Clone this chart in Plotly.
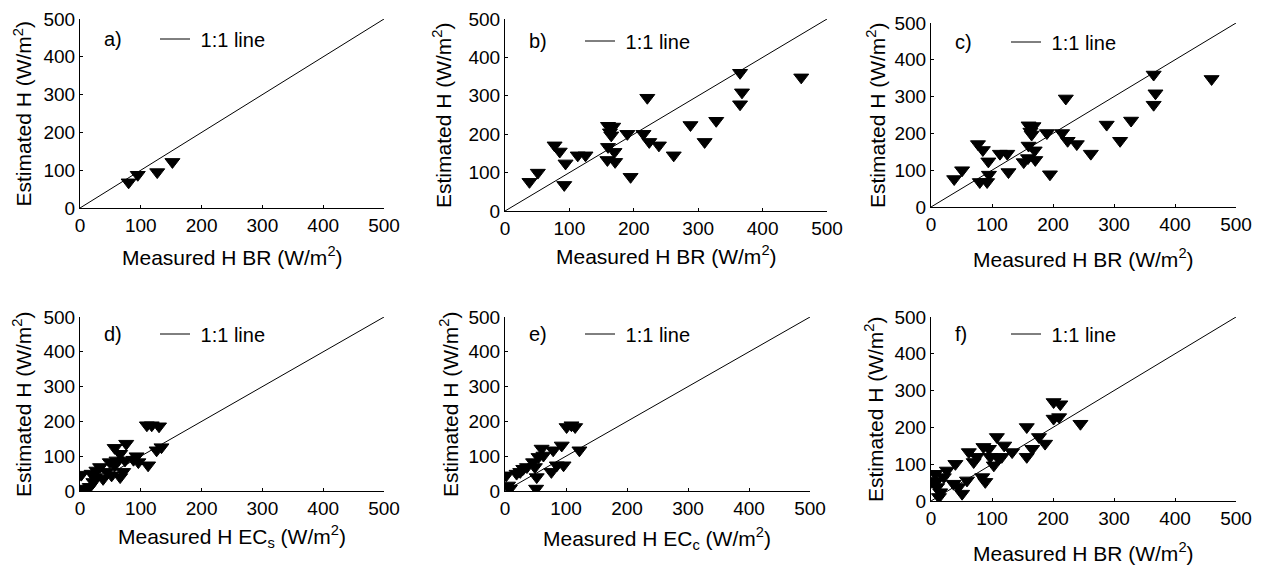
import plotly.graph_objects as go

W, H = 1261, 565
OFF = 8  # the page body adds an 8px margin around the figure

# measured vs estimated sensible heat flux (W/m2)
a_x = [80, 95, 127, 152]
a_y = [68, 88, 95, 122]

b_x = [38, 51, 92, 77, 85, 94, 113, 125, 159, 160, 168, 163, 165, 160, 170, 171,
       190, 195, 221, 215, 224, 239, 262, 288, 310, 328, 365, 368, 365, 460]
b_y = [76, 100, 68, 171, 155, 124, 145, 145, 133, 222, 220, 205, 197, 167, 154, 128,
       201, 89, 295, 201, 180, 171, 145, 224, 180, 235, 360, 309, 278, 348]

c_x = [80, 95, 127, 152,
       38, 51, 92, 77, 85, 94, 113, 125, 159, 160, 168, 163, 165, 160, 170, 171,
       190, 195, 221, 215, 224, 239, 262, 288, 310, 328, 365, 368, 365, 460]
c_y = [68, 88, 95, 122,
       76, 100, 68, 171, 155, 124, 145, 145, 133, 222, 220, 205, 197, 167, 154, 128,
       201, 89, 295, 201, 180, 171, 145, 224, 180, 235, 360, 309, 278, 348]

d_x = [2, 5, 8, 16, 22, 19, 27, 33, 25, 38, 44, 49, 52, 57, 60, 57, 66, 71, 74, 76,
       88, 93, 96, 112, 110, 118, 130, 126, 134, 66]
d_y = [47, 7, 4, 12, 26, 50, 59, 69, 40, 35, 55, 83, 45, 74, 88, 124, 107, 55, 88, 136,
       90, 100, 83, 74, 189, 189, 186, 117, 126, 40]

e_x = [2, 5, 8, 25, 19, 30, 36, 46, 49, 52, 51, 55, 60, 63, 76, 79, 85, 93, 96, 101,
       109, 115, 122]
e_y = [45, 16, 7, 55, 50, 64, 69, 83, 69, 40, 7, 98, 122, 102, 55, 117, 74, 131, 74, 184,
       189, 184, 117]

f_x = [0, 7, 10, 13, 15, 21, 26, 37, 40, 45, 51, 59, 62, 70, 75, 84, 89, 86, 95, 97,
       103, 108, 111, 116, 120, 133, 157, 157, 166, 177, 187, 201, 212, 201, 210, 245, 10]
f_y = [52, 74, 38, 11, 24, 65, 83, 47, 101, 38, 20, 56, 133, 106, 120, 65, 52, 147, 142, 120,
       97, 174, 115, 120, 151, 133, 201, 120, 142, 174, 156, 269, 263, 224, 228, 210, 56]

one_to_one = [0, 500]
ticks = [0, 100, 200, 300, 400, 500]

panels = [
    ("a)", a_x, a_y, "Measured H BR (W/m<sup>2</sup>)"),
    ("b)", b_x, b_y, "Measured H BR (W/m<sup>2</sup>)"),
    ("c)", c_x, c_y, "Measured H BR (W/m<sup>2</sup>)"),
    ("d)", d_x, d_y, "Measured H EC<sub>s</sub> (W/m<sup>2</sup>)"),
    ("e)", e_x, e_y, "Measured H EC<sub>c</sub> (W/m<sup>2</sup>)"),
    ("f)", f_x, f_y, "Measured H BR (W/m<sup>2</sup>)"),
]

# plot-area boxes in screen pixels: left, right, top, bottom
boxes = [
    (80, 384, 19, 208),
    (505, 827, 19, 211),
    (931, 1236, 23, 207),
    (80, 384, 317, 491),
    (505, 810, 317, 491),
    (931, 1236, 317, 501),
]
# screen pixel placements: label/legend row, x-title baseline, y-title centre x
label_y = [39, 41, 42, 334, 334, 334]
xtitle_base = [262, 261, 264, 542, 544, 558]
ytitle_x = [22, 442, 876, 22, 449, 874]


def px(p):
    return (p - OFF) / W


def py(p):
    return 1 - (p - OFF) / H


FONT = "Liberation Sans, Arial, sans-serif"

fig = go.Figure()
layout = dict(
    width=W, height=H,
    margin=dict(l=0, r=0, t=0, b=0, autoexpand=False),
    paper_bgcolor="white", plot_bgcolor="white",
    font=dict(family=FONT, size=19, color="black"),
    showlegend=True,
)
annotations = []

for i, (lab, xs, ys, xtitle) in enumerate(panels):
    n = i + 1
    xa = "x" if n == 1 else f"x{n}"
    ya = "y" if n == 1 else f"y{n}"
    lg = "legend" if n == 1 else f"legend{n}"
    l, r, t, b = boxes[i]

    fig.add_trace(go.Scatter(
        x=one_to_one, y=one_to_one, mode="lines", name=" 1:1 line",
        line=dict(color="black", width=1), xaxis=xa, yaxis=ya, legend=lg,
        hoverinfo="skip"))
    fig.add_trace(go.Scatter(
        x=xs, y=ys, mode="markers", showlegend=False,
        marker=dict(symbol="triangle-down", size=13, color="black",
                    line=dict(color="black", width=1)),
        xaxis=xa, yaxis=ya))

    axis_common = dict(range=[0, 500], tickvals=ticks, ticks="inside", ticklen=3,
                       tickcolor="black", showline=True, linecolor="black",
                       linewidth=1, showgrid=False, zeroline=False,
                       tickfont=dict(size=19), ticklabeloverflow="allow",
                       fixedrange=True)
    layout["xaxis" if n == 1 else f"xaxis{n}"] = dict(
        axis_common, domain=[px(l), px(r)], anchor=ya)
    layout["yaxis" if n == 1 else f"yaxis{n}"] = dict(
        axis_common, domain=[py(b), py(t)], anchor=xa)

    # legend box for the 1:1 line
    layout[lg] = dict(x=px(l + 75), y=py(label_y[i]), xanchor="left",
                      yanchor="middle", bgcolor="rgba(0,0,0,0)",
                      font=dict(size=20), itemwidth=30)

    # panel label
    annotations.append(dict(text=lab, x=px(l + 22), y=py(label_y[i]),
                            xref="paper", yref="paper", xanchor="left",
                            yanchor="middle", showarrow=False,
                            font=dict(size=20)))
    # axis titles
    annotations.append(dict(text=xtitle, x=px((l + r) / 2),
                            y=py(xtitle_base[i] - 6),
                            xref="paper", yref="paper", xanchor="center",
                            yanchor="middle", showarrow=False,
                            font=dict(size=21)))
    annotations.append(dict(text="Estimated H (W/m<sup>2</sup>)", x=px(ytitle_x[i]),
                            y=py((t + b) / 2), xref="paper", yref="paper",
                            xanchor="center", yanchor="middle", textangle=-90,
                            showarrow=False, font=dict(size=21)))

layout["annotations"] = annotations
fig.update_layout(**layout)

fig.write_html("out.html")
